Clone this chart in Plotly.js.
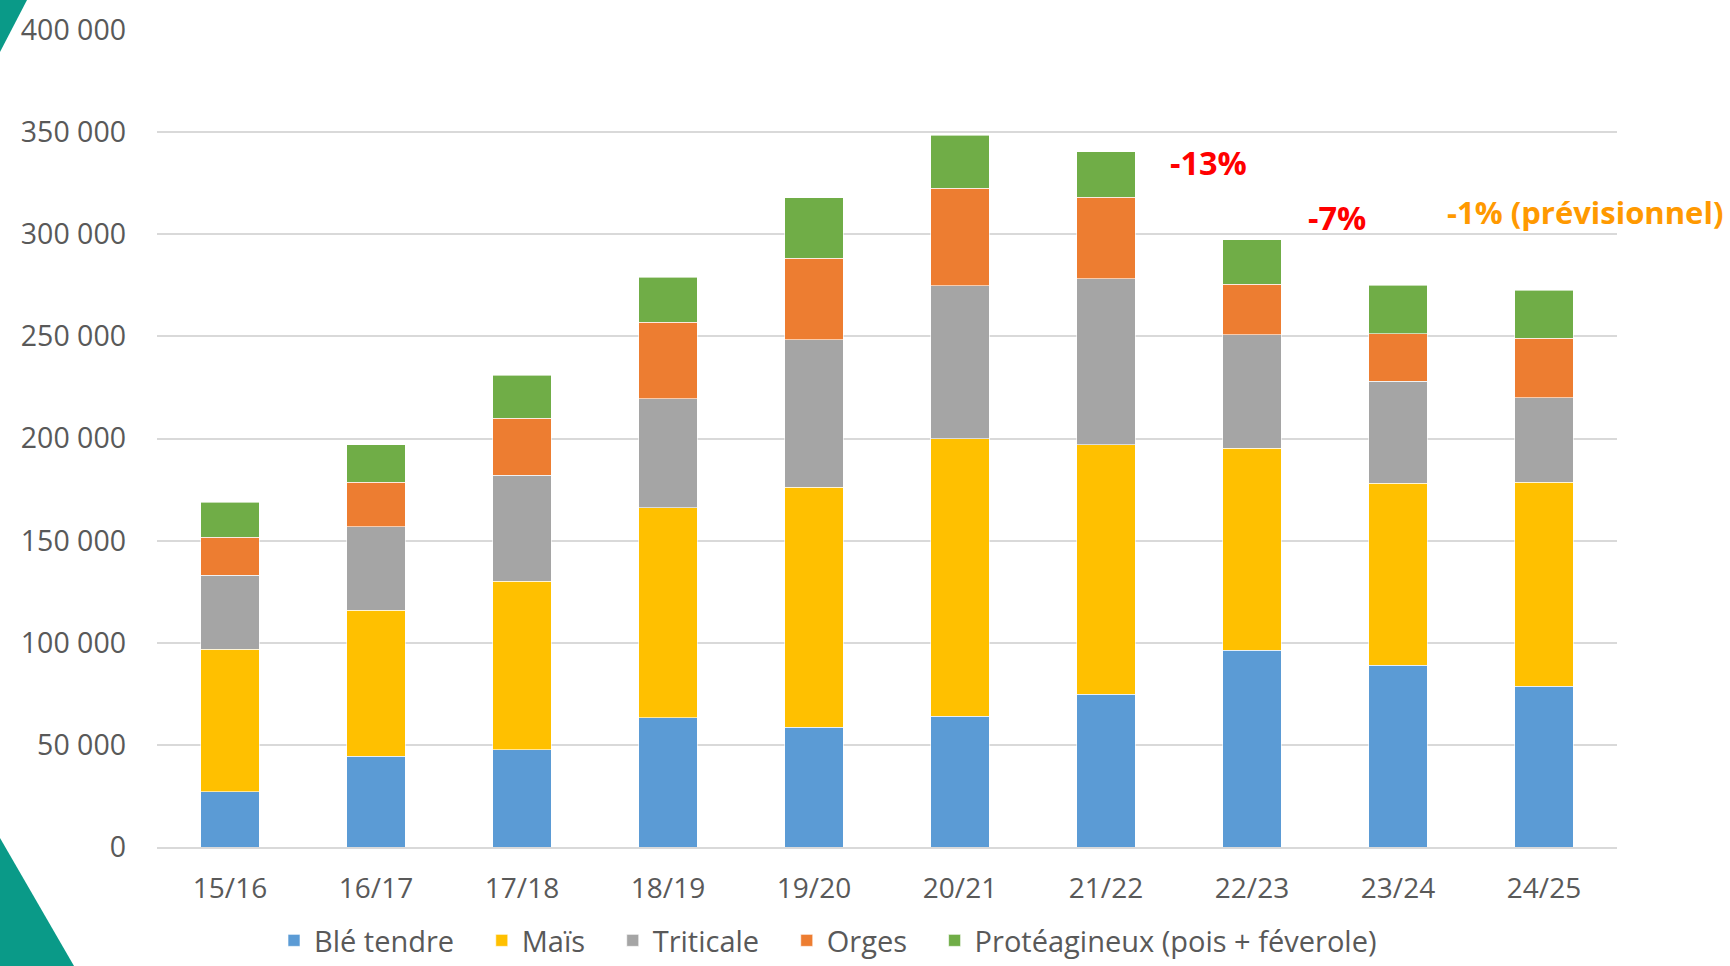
<!DOCTYPE html>
<html>
<head>
<meta charset="utf-8">
<script src="https://cdn.plot.ly/plotly-3.0.1.min.js"></script>
<style>
  html, body { margin: 0; padding: 0; background: #ffffff; }
  #chart { width: 1730px; height: 966px; }
</style>
</head>
<body>
<div id="chart"></div>
<script>
// ---- data ----
const campagnes = ["15/16", "16/17", "17/18", "18/19", "19/20", "20/21", "21/22", "22/23", "23/24", "24/25"];
const bleTendre    = [27000, 44500, 47700, 63200, 58600, 64100, 74800, 96300, 88900, 78700];
const mais         = [69900, 71500, 82500, 102800, 117600, 135700, 122200, 98900, 89100, 100000];
const triticale    = [36100, 40900, 51700, 53500, 72200, 75000, 81300, 55700, 50000, 41200];
const orges        = [18700, 21700, 28100, 37500, 39800, 47700, 39800, 24600, 23400, 29200];
const proteagineux = [17100, 18300, 21000, 22000, 29700, 25900, 22200, 21700, 23600, 23400];
const seriesNames  = ["Blé tendre", "Maïs", "Triticale", "Orges", "Protéagineux (pois + féverole)"];
const annotTexts   = ["-13%", "-7%", "-1% (prévisionnel)"];

// ---- styling ----
const colors = ["#5B9BD5", "#FFC000", "#A5A5A5", "#ED7D31", "#70AD47"];
const seriesValues = [bleTendre, mais, triticale, orges, proteagineux];
const pad = "\u00A0\u00A0\u00A0";

const traces = seriesValues.map((vals, i) => ({
  type: "bar",
  name: seriesNames[i] + (i < seriesNames.length - 1 ? pad : ""),
  x: campagnes,
  y: vals,
  marker: { color: colors[i], line: { color: "rgba(255,255,255,0.6)", width: 1 } },
  hoverinfo: "skip"
}));

// layout geometry helpers (pixel -> paper) for decoration shapes
const L = 157, R = 113, T = 30, B = 119, W = 1730, H = 966;
const pw = W - L - R, ph = H - T - B;
const px = v => (v - L) / pw;
const py = v => (H - B - v) / ph;
const teal = "#0A9A88";

const shapes = [
  { type: "path", xref: "paper", yref: "paper",
    path: `M ${px(0)} ${py(0)} L ${px(27)} ${py(0)} L ${px(0)} ${py(52)} Z`,
    fillcolor: teal, line: { width: 0 }, layer: "below" },
  { type: "path", xref: "paper", yref: "paper",
    path: `M ${px(0)} ${py(838)} L ${px(74)} ${py(966)} L ${px(0)} ${py(966)} Z`,
    fillcolor: teal, line: { width: 0 }, layer: "below" }
];

const font = "'Open Sans', 'DejaVu Sans', sans-serif";

const layout = {
  width: W, height: H,
  margin: { l: L, r: R, t: T, b: B, pad: 0, autoexpand: false },
  paper_bgcolor: "#ffffff",
  plot_bgcolor: "#ffffff",
  barmode: "stack",
  bargap: 0.6,
  separators: ", ",
  showlegend: true,
  font: { family: font, color: "#595959", size: 28 },
  xaxis: {
    type: "category",
    range: [-0.5, campagnes.length - 0.5],
    showgrid: false,
    showline: true,
    linecolor: "#D9D9D9",
    linewidth: 2,
    ticks: "",
    ticklabelstandoff: 15,
    tickfont: { family: font, size: 28, color: "#595959" },
    automargin: false,
    fixedrange: true
  },
  yaxis: {
    range: [0, 400000],
    dtick: 50000,
    tick0: 0,
    tickformat: ",d",
    showgrid: true,
    gridcolor: "#D9D9D9",
    gridwidth: 2,
    zeroline: false,
    showline: false,
    ticks: "",
    ticklabelstandoff: 30,
    tickfont: { family: font, size: 28.5, color: "#595959" },
    automargin: false,
    fixedrange: true
  },
  legend: {
    orientation: "h",
    traceorder: "normal",
    xref: "container", yref: "container",
    x: 274 / W, xanchor: "left",
    y: -6 / H, yanchor: "bottom",
    font: { family: font, size: 29, color: "#595959" },
    itemwidth: 30,
    bgcolor: "rgba(0,0,0,0)"
  },
  annotations: [
    { text: annotTexts[0], x: 6.7, y: 335000, xref: "x", yref: "y", showarrow: false,
      font: { family: font, size: 32.5, color: "#FF0000", weight: "bold" }, xanchor: "center", yanchor: "middle" },
    { text: annotTexts[1], x: 7.58, y: 308000, xref: "x", yref: "y", showarrow: false,
      font: { family: font, size: 32.5, color: "#FF0000", weight: "bold" }, xanchor: "center", yanchor: "middle" },
    { text: annotTexts[2], x: 8.32, y: 311000, xref: "x", yref: "y", showarrow: false,
      font: { family: font, size: 31, color: "#FF9900", weight: "bold" }, xanchor: "left", yanchor: "middle" }
  ],
  shapes: shapes,
  hovermode: false
};

Plotly.newPlot("chart", traces, layout, { displayModeBar: false, staticPlot: true });
</script>
</body>
</html>
